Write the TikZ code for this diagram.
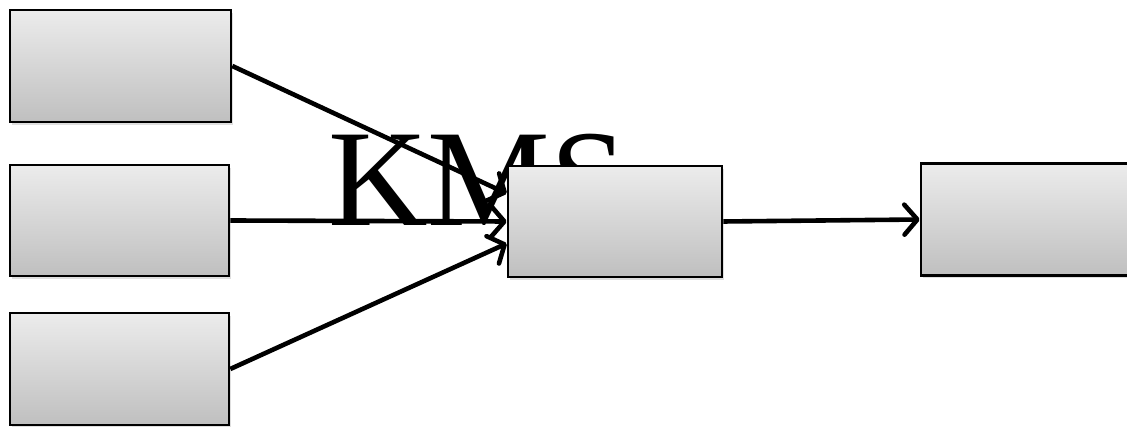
\documentclass[tikz,border=0pt]{standalone}
\usepackage{fontspec}
\setmainfont{Liberation Serif}
\usetikzlibrary{arrows.meta,shadows}
\begin{document}
\begin{tikzpicture}[x=1pt,y=1pt,
  box/.style={draw=black,line width=2.6pt,rectangle,inner sep=0pt,
    top color=gray!15,bottom color=gray!50,
    drop shadow={shadow xshift=2pt,shadow yshift=-3pt,opacity=0.25,fill=gray}},
  conn/.style={line width=4.6pt,-{Straight Barb[length=13pt,width=30pt,round]}}]
\useasboundingbox (0,0) rectangle (1127,427);
\node[anchor=base west,inner sep=0pt,font=\fontsize{138}{140}\selectfont] (kms) at (328,201) {KMS};
\node[box,minimum width=221pt,minimum height=112pt] (b1) at (120.5,361) {};
\node[box,minimum width=219pt,minimum height=111pt] (b2) at (119.5,206.5) {};
\node[box,minimum width=219pt,minimum height=112pt] (b3) at (119.5,58) {};
\node[box,minimum width=214pt,minimum height=111pt] (c) at (615,205.5) {};
\node[box,minimum width=214pt,minimum height=112pt] (r) at (1028,207.5) {};
\draw[conn] (b1.east) -- ([yshift=28pt]c.west);
\draw[conn] (b2.east) -- (c.west);
\draw[conn] (b3.east) -- ([yshift=-22pt]c.west);
\draw[conn] (c.east) -- (r.west);
\end{tikzpicture}
\end{document}
